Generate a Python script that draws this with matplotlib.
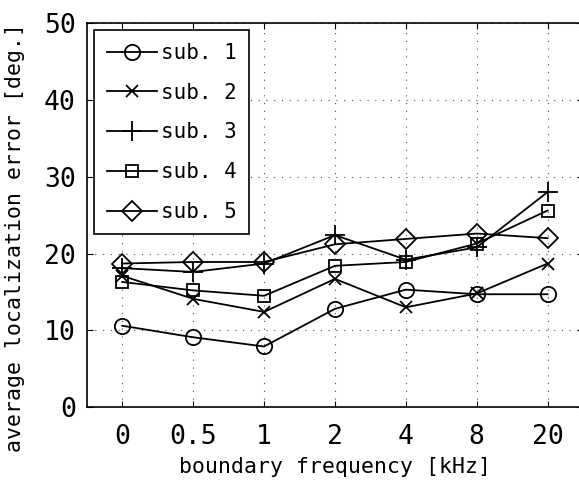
import matplotlib
matplotlib.use("Agg")
import matplotlib.pyplot as plt
import numpy as np

# boundary frequency categories
freq_labels = ["0", "0.5", "1", "2", "4", "8", "20"]

# average localization error [deg.] per subject
sub1 = [10.6, 9.1, 7.9, 12.8, 15.3, 14.7, 14.7]
sub2 = [17.1, 14.1, 12.4, 16.7, 13.0, 14.8, 18.7]
sub3 = [18.1, 17.6, 18.7, 22.4, 19.2, 20.8, 28.0]
sub4 = [16.3, 15.2, 14.5, 18.4, 18.9, 21.3, 25.6]
sub5 = [18.7, 18.9, 18.9, 21.2, 21.9, 22.6, 22.0]

series = [("sub. 1", sub1, "o", 11),
          ("sub. 2", sub2, "x", 9),
          ("sub. 3", sub3, "+", 14),
          ("sub. 4", sub4, "s", 9),
          ("sub. 5", sub5, "D", 10)]

plt.rcParams["font.family"] = ["DejaVu Sans Mono"]

fig = plt.figure(figsize=(5.79, 4.90), dpi=100)
ax = fig.add_axes([0.150, 0.169, 0.857, 0.784])

x = np.arange(len(freq_labels))
for name, vals, mk, ms in series:
    ax.plot(x, vals, color="black", lw=1.3, marker=mk, ms=ms,
            mfc="none", mec="black", mew=1.3, label=name)

ax.set_xlim(-0.5, 6.5)
ax.set_ylim(0, 50)
ax.set_xticks(x)
ax.set_xticklabels(freq_labels)
ax.set_yticks(np.arange(0, 51, 10))
ax.tick_params(direction="in", top=True, right=True, length=4,
               labelsize=19)
ax.tick_params(axis="x", pad=12)
ax.tick_params(axis="y", pad=8)
ax.grid(True, linestyle=(0, (1, 6)), color="0.3", lw=0.8)
for s in ax.spines.values():
    s.set_linewidth(1.2)

ax.set_xlabel("boundary frequency [kHz]", fontsize=15.5, labelpad=5)
ax.set_ylabel("average localization error [deg.]", fontsize=15.5)
ax.yaxis.set_label_coords(-0.125, 0.443)

leg = ax.legend(loc="upper left", fontsize=15, handlelength=2.4,
                handletextpad=0.2, borderaxespad=0.35, labelspacing=0.95,
                fancybox=False, framealpha=1, edgecolor="black",
                borderpad=0.6)
leg.get_frame().set_linewidth(1.2)

fig.savefig("out.png", dpi=100)
